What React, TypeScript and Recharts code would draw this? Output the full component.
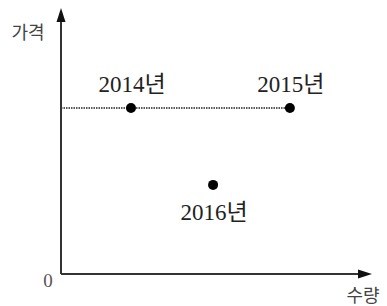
import React from "react";
import { ScatterChart, Scatter, XAxis, YAxis, ReferenceLine } from "recharts";

const years = ["2014년", "2015년", "2016년"];
const quantities = [22.5, 73.6, 48.9];
const prices = [62.4, 62.4, 33.5];
const labelBelow = [false, false, true];
const axisLabels = { x: "수량", y: "가격", origin: "0" };
const priceLevel = 62.4;

const points = years.map((label, i) => ({
  q: quantities[i],
  p: prices[i],
  label,
  below: labelBelow[i],
}));

const FONT = "'Liberation Serif', 'Noto Sans CJK KR', serif";
const INK = "#222";

const PointShape = (props: any) => {
  const { cx, cy, payload } = props;
  return (
    <g>
      <circle cx={cx} cy={cy} r={5} fill="#000" />
      <text
        x={cx + 1}
        y={payload.below ? cy + 35 : cy - 16}
        textAnchor="middle"
        fontFamily={FONT}
        fontSize={23}
        fill={INK}
      >
        {payload.label}
      </text>
    </g>
  );
};

const XArrow = (props: any) => {
  const { x1, y1, x2, y2 } = props;
  return (
    <g>
      <line x1={x1} y1={y1} x2={x2 - 10} y2={y2} stroke="#333" strokeWidth={2} />
      <polygon points={`${x2},${y2} ${x2 - 14},${y2 - 4.5} ${x2 - 14},${y2 + 4.5}`} fill="#111" />
      <text x={x2 - 9} y={y2 + 28} textAnchor="middle" fontFamily="'Noto Sans CJK KR', sans-serif" fontSize={18} fill="#444">
        {axisLabels.x}
      </text>
      <text x={x1 - 13} y={y1 + 13} textAnchor="middle" fontFamily={FONT} fontSize={19} fill="#555">
        {axisLabels.origin}
      </text>
    </g>
  );
};

const YArrow = (props: any) => {
  const { x1, y1, x2, y2 } = props;
  const topY = Math.min(y1, y2);
  const botY = Math.max(y1, y2);
  return (
    <g>
      <line x1={x1} y1={botY} x2={x2} y2={topY + 10} stroke="#333" strokeWidth={2} />
      <polygon points={`${x1},${topY} ${x1 - 4.5},${topY + 14} ${x1 + 4.5},${topY + 14}`} fill="#111" />
      <text x={x1 - 33} y={topY + 31} textAnchor="middle" fontFamily="'Noto Sans CJK KR', sans-serif" fontSize={18} fill="#444">
        {axisLabels.y}
      </text>
    </g>
  );
};

export default function App() {
  return (
    <div style={{ position: "absolute", left: 0, top: 0, background: "#fff" }}>
      <ScatterChart width={387} height={306} margin={{ top: 8, right: 15, bottom: 32, left: 61 }}>
        <XAxis type="number" dataKey="q" domain={[0, 100]} hide />
        <YAxis type="number" dataKey="p" domain={[0, 100]} hide />
        <ReferenceLine
          segment={[{ x: 0, y: priceLevel }, { x: quantities[1], y: priceLevel }]}
          stroke="#222"
          strokeWidth={1.5}
          strokeDasharray="1.5 1"
          ifOverflow="visible"
        />
        <ReferenceLine
          segment={[{ x: 0, y: 0 }, { x: 100, y: 0 }]}
          ifOverflow="visible"
          shape={XArrow}
        />
        <ReferenceLine
          segment={[{ x: 0, y: 0 }, { x: 0, y: 100 }]}
          ifOverflow="visible"
          shape={YArrow}
        />
        <Scatter data={points} shape={PointShape} isAnimationActive={false} />
      </ScatterChart>
    </div>
  );
}
